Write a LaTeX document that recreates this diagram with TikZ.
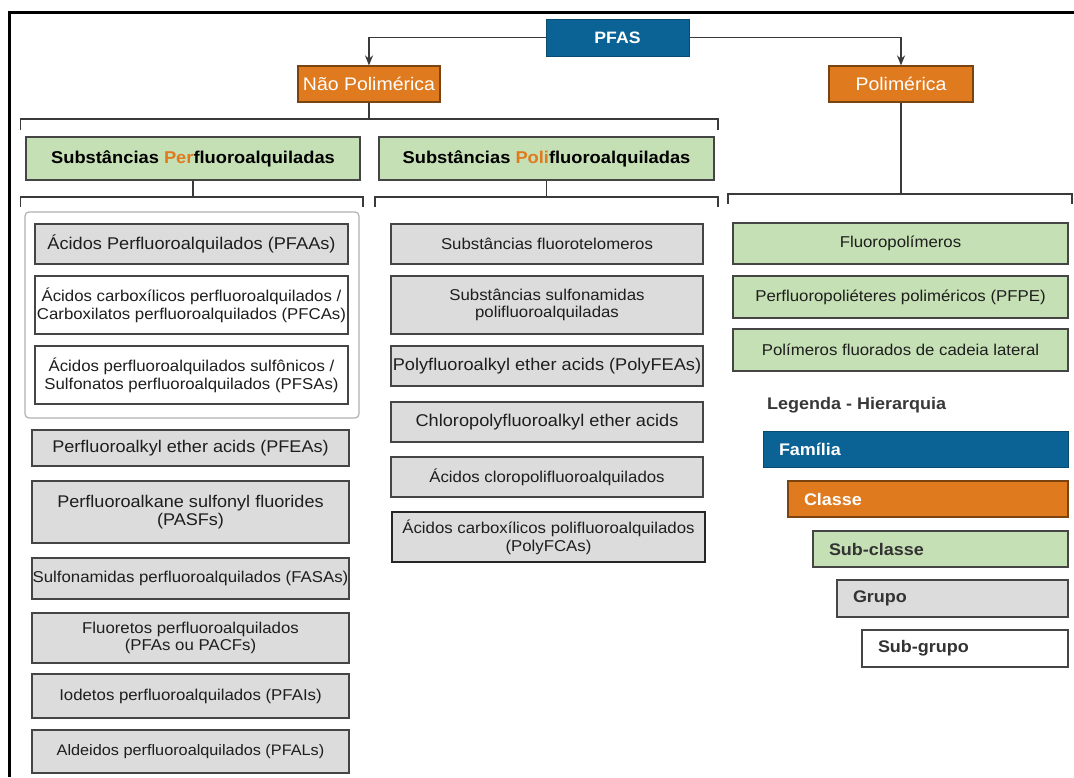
\documentclass[tikz,border=0pt]{standalone}
\usepackage{fontspec}
\setmainfont{Liberation Sans}[FakeStretch=1.07]
\usetikzlibrary{arrows.meta}
\definecolor{pblue}{HTML}{0B6295}
\definecolor{porange}{HTML}{E07A1E}
\definecolor{pgreen}{HTML}{C5E0B4}
\definecolor{pgray}{HTML}{DCDCDD}
\definecolor{pborder}{HTML}{454545}
\definecolor{ptext}{HTML}{1E1E1E}
\definecolor{pline}{HTML}{3A3A3A}
\newcommand\fsz[2]{\fontsize{#1}{#2}\selectfont}
\newcommand\bx[7]{\node[#6, minimum width={(#4-#2)*1pt}, minimum height={(#5-#3)*1pt}] (#1) at ({(#2+#4)/2},{(#3+#5)/2}) {#7};}
\newcommand\lbx[7]{\pgfmathsetmacro\tw{#4-#2-32}\node[#6, minimum width={(#4-#2)*1pt}, minimum height={(#5-#3)*1pt}, text width=\tw pt, align=left, inner xsep=16pt] (#1) at ({(#2+#4)/2},{(#3+#5)/2}) {#7};}
\tikzset{
  box/.style={draw=pborder, line width=1.3pt, inner sep=0pt, align=center, text=ptext, font=\fsz{15.7}{17.8}},
  bigtext/.style={font=\fsz{16.9}{18.5}},
  graybox/.style={box, fill=pgray},
  whitebox/.style={box, fill=white},
  greenbox/.style={box, fill=pgreen},
  headbox/.style={greenbox, text=black, font=\bfseries\fsz{17.1}{20}},
  bluebox/.style={draw=pblue!75!black, fill=pblue, line width=1pt, inner sep=0pt, text=white, font=\bfseries\fsz{16.5}{20}},
  orangebox/.style={draw=porange!55!black, fill=porange, line width=1.2pt, inner sep=0pt, text=white, font=\fsz{18.2}{20}},
  groupbox/.style={draw=black!30, line width=1.2pt, rounded corners=4pt, fill=white, inner sep=0pt},
  legtitle/.style={anchor=west, inner sep=0pt, text=black!78, font=\bfseries\fsz{16.8}{20}},
  legblue/.style={draw=pblue!75!black, fill=pblue, line width=1pt, inner ysep=0pt, text=white, font=\bfseries\fsz{16.8}{20}},
  legorange/.style={draw=porange!55!black, fill=porange, line width=1.2pt, inner ysep=0pt, text=white, font=\bfseries\fsz{16.8}{20}},
  leggreen/.style={draw=pborder, fill=pgreen, line width=1.3pt, inner ysep=0pt, text=black!80, font=\bfseries\fsz{16.8}{20}},
  leggray/.style={draw=pborder, fill=pgray, line width=1.3pt, inner ysep=0pt, text=black!80, font=\bfseries\fsz{16.8}{20}},
  legwhite/.style={draw=pborder, fill=white, line width=1.3pt, inner ysep=0pt, text=black!80, font=\bfseries\fsz{16.8}{20}},
  conn/.style={draw=pline, line width=1.6pt},
  arr/.style={conn, -{Stealth[length=10pt,width=8pt]}}
}
\begin{document}
\begin{tikzpicture}[x=1pt,y=-1pt]
\useasboundingbox (0,0) rectangle (1074,777);
\fill[white] (0,0) rectangle (1074,777);
% frame
\draw[line width=3pt, black] (9.5,777) -- (9.5,12.5) -- (1074,12.5);

% top levels
\bx{pfas}{546}{19}{689}{56}{bluebox}{PFAS}
\bx{nao}{298}{66}{440}{102}{orangebox}{Não Polimérica}
\bx{pol}{829}{66}{973}{102}{orangebox}{Polimérica}
\draw[arr] (pfas.west) -| (nao.north);
\draw[arr] (pfas.east) -| (pol.north);

% bracket under Não Polimérica
\coordinate (b1l) at (20.5,119);
\coordinate (b1r) at (718,119);
\draw[conn] (nao.south) -- (nao.south |- b1l);
\draw[conn] ([yshift=-11pt]b1l) -- (b1l) -- (b1r) -- ([yshift=-11pt]b1r);

\bx{per}{26}{137}{360}{180}{headbox}{Substâncias \textcolor{porange}{Per}fluoroalquiladas}
\bx{poli}{379}{137}{714}{180}{headbox}{Substâncias \textcolor{porange}{Poli}fluoroalquiladas}

% brackets under sub-classes
\coordinate (b2l) at (20.5,197);
\coordinate (b2r) at (363,197);
\draw[conn] (per.south) -- (per.south |- b2l);
\draw[conn] ([yshift=-10pt]b2l) -- (b2l) -- (b2r) -- ([yshift=-10pt]b2r);
\coordinate (b3l) at (375,197);
\coordinate (b3r) at (718,197);
\draw[conn] (poli.south) -- (poli.south |- b3l);
\draw[conn] ([yshift=-10pt]b3l) -- (b3l) -- (b3r) -- ([yshift=-10pt]b3r);
\coordinate (b4l) at (728,194);
\coordinate (b4r) at (1072,194);
\draw[conn] (pol.south) -- (pol.south |- b4l);
\draw[conn] ([yshift=-10pt]b4l) -- (b4l) -- (b4r) -- ([yshift=-10pt]b4r);

% left column
\bx{grp}{25}{212}{359}{418}{groupbox}{}
\bx{l1}{35}{224}{348}{264}{graybox, font=\fsz{17}{20}}{Ácidos Perfluoroalquilados (PFAAs)}
\bx{l2}{35}{276}{348}{334}{whitebox}{Ácidos carboxílicos perfluoroalquilados /\\Carboxilatos perfluoroalquilados (PFCAs)}
\bx{l3}{35}{346}{348}{404}{whitebox}{Ácidos perfluoroalquilados sulfônicos /\\Sulfonatos perfluoroalquilados (PFSAs)}
\bx{l4}{32}{430}{349}{466}{graybox, bigtext}{Perfluoroalkyl ether acids (PFEAs)}
\bx{l5}{32}{481}{349}{543}{graybox, bigtext}{Perfluoroalkane sulfonyl fluorides\\(PASFs)}
\bx{l6}{32}{558}{349}{599}{graybox}{Sulfonamidas perfluoroalquilados (FASAs)}
\bx{l7}{32}{613}{349}{663}{graybox}{Fluoretos perfluoroalquilados\\(PFAs ou PACFs)}
\bx{l8}{32}{674}{349}{718}{graybox}{Iodetos perfluoroalquilados (PFAIs)}
\bx{l9}{32}{730}{349}{773}{graybox, font=\fsz{15.2}{17.8}}{Aldeidos perfluoroalquilados (PFALs)}

% middle column
\bx{m1}{391}{224}{703}{264}{graybox}{Substâncias fluorotelomeros}
\bx{m2}{391}{276}{703}{334}{graybox}{Substâncias sulfonamidas\\polifluoroalquiladas}
\bx{m3}{391}{346}{703}{386}{graybox, font=\fsz{17}{18.5}}{Polyfluoroalkyl ether acids (PolyFEAs)}
\bx{m4}{391}{402}{703}{442}{graybox, font=\fsz{17}{18.5}}{Chloropolyfluoroalkyl ether acids}
\bx{m5}{391}{457}{703}{497}{graybox}{Ácidos cloropolifluoroalquilados}
\bx{m6}{392}{512}{705}{562}{graybox, draw=black!85, line width=1.6pt}{Ácidos carboxílicos polifluoroalquilados\\(PolyFCAs)}

% right column
\bx{r1}{733}{223}{1068}{264}{greenbox}{Fluoropolímeros}
\bx{r2}{733}{276}{1068}{318}{greenbox}{Perfluoropoliéteres poliméricos (PFPE)}
\bx{r3}{733}{329}{1068}{371}{greenbox}{Polímeros fluorados de cadeia lateral}

% legend
\node[legtitle] (leg) at (767,405) {Legenda - Hierarquia};
\lbx{lf}{763}{431}{1068}{467}{legblue}{Família}
\lbx{lc}{788}{481}{1068}{517}{legorange}{Classe}
\lbx{lsc}{813}{531}{1068}{567}{leggreen}{Sub-classe}
\lbx{lg}{837}{580}{1068}{617}{leggray}{Grupo}
\lbx{lsg}{862}{630}{1068}{667}{legwhite}{Sub-grupo}
\end{tikzpicture}
\end{document}
